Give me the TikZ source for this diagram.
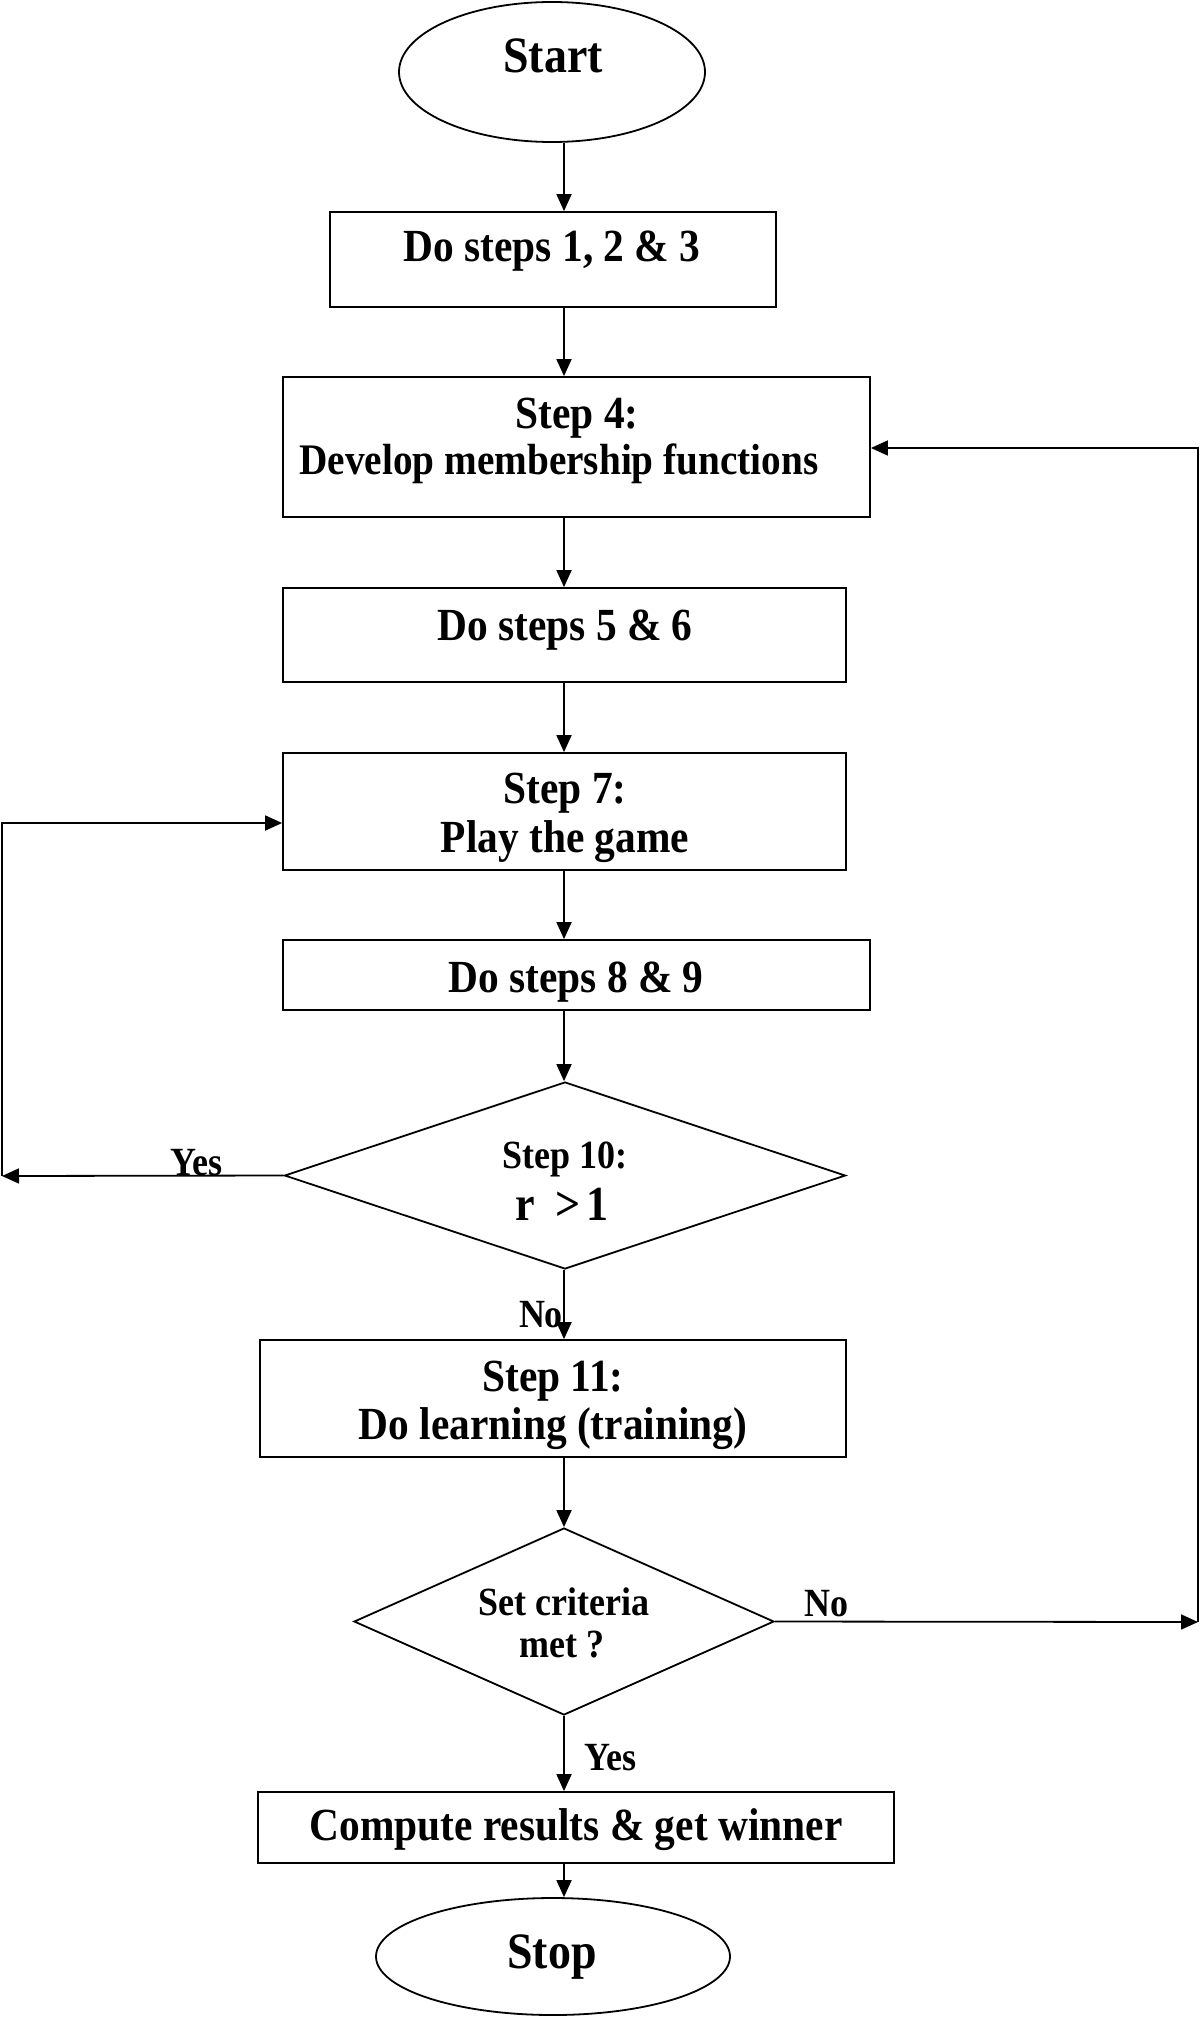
\documentclass[tikz,border=0pt]{standalone}
\usepackage{fontspec}
\setmainfont{Liberation Serif}[FakeStretch=0.9]
\usetikzlibrary{shapes.geometric,arrows.meta}
\begin{document}
\begin{tikzpicture}[x=0.5pt,y=-0.5pt,
  line width=0.9pt,
  boxnode/.style={draw,rectangle,inner sep=0pt},
  ovalnode/.style={draw,ellipse,inner sep=0pt},
  dianode/.style={draw,diamond,inner sep=0pt},
  txt/.style={anchor=base,inner sep=0pt,font=\bfseries\fontsize{23}{27}\selectfont},
  bigtxt/.style={txt,font=\bfseries\fontsize{25.5}{30}\selectfont},
  dtxt/.style={txt,font=\bfseries\fontsize{20}{24}\selectfont},
  lbl/.style={txt,font=\bfseries\fontsize{20}{24}\selectfont},
  arr/.style={-{Triangle[length=8.5pt,width=7.5pt]}}
]
\useasboundingbox (0,0) rectangle (1200,2017);

% shapes
\node[ovalnode,minimum width=153pt,minimum height=70pt] (start) at (552,72) {};
\node[boxnode,minimum width=223pt,minimum height=47.5pt] (b1) at (553,259.5) {};
\node[boxnode,minimum width=293.5pt,minimum height=70pt] (b2) at (576.5,447) {};
\node[boxnode,minimum width=281.5pt,minimum height=47pt] (b3) at (564.5,635) {};
\node[boxnode,minimum width=281.5pt,minimum height=58.5pt] (b4) at (564.5,811.5) {};
\node[boxnode,minimum width=293.5pt,minimum height=35pt] (b5) at (576.5,975) {};
\node[dianode,minimum width=280.5pt,minimum height=93.5pt] (d1) at (565,1175.5) {};
\node[boxnode,minimum width=293pt,minimum height=58.5pt] (b6) at (553,1398.5) {};
\node[dianode,minimum width=210pt,minimum height=93.5pt] (d2) at (564,1621.5) {};
\node[boxnode,minimum width=318pt,minimum height=35.5pt] (b7) at (576,1827.5) {};
\node[ovalnode,minimum width=177pt,minimum height=58.5pt] (stop) at (553,1956.5) {};

% texts
\node[bigtxt] (tstart) at (553,73) {Start};
\node[txt] (tb1) at (552,262) {Do steps 1, 2 \& 3};
\node[txt] (tb2a) at (577,428) {Step 4:};
\node[txt,font=\bfseries\fontsize{21.8}{26}\selectfont] (tb2b) at (559,474) {Develop membership functions};
\node[txt] (tb3) at (565,640) {Do steps 5 \& 6};
\node[txt] (tb4a) at (565,803) {Step 7:};
\node[txt] (tb4b) at (565,852) {Play the game};
\node[txt] (tb5) at (576,992) {Do steps 8 \& 9};
\node[dtxt] (td1a) at (565,1168) {Step 10:};
\node[txt,font=\bfseries\fontsize{24.5}{29}\selectfont] (td1b) at (562,1220) {r\hspace{0.4em}>\hspace{0.12em}1};
\node[txt] (tb6a) at (553,1391) {Step 11:};
\node[txt] (tb6b) at (553,1439) {Do learning (training)};
\node[dtxt] (td2a) at (564,1615) {Set criteria};
\node[dtxt] (td2b) at (562,1657) {met ?};
\node[txt] (tb7) at (576,1840) {Compute results \& get winner};
\node[bigtxt] (tstop) at (552,1968) {Stop};

% labels
\node[lbl] (yes1) at (196,1175) {Yes};
\node[lbl] (no1) at (541,1327) {No};
\node[lbl] (no2) at (826,1616) {No};
\node[lbl] (yes2) at (610,1770) {Yes};

% helper coordinates
\coordinate (spine) at (564,0);
\coordinate (yl) at (2,1176);
\coordinate (lt) at (2,823);
\coordinate (rb) at (1198,1622);
\coordinate (rt) at (1198,448);

% spine connectors
\draw[arr] (start.south -| spine) -- (b1.north -| spine);
\draw[arr] (b1.south -| spine) -- (b2.north -| spine);
\draw[arr] (b2.south -| spine) -- (b3.north -| spine);
\draw[arr] (b3.south -| spine) -- (b4.north -| spine);
\draw[arr] (b4.south -| spine) -- (b5.north -| spine);
\draw[arr] (b5.south -| spine) -- (d1.north -| spine);
\draw[arr] (d1.south -| spine) -- (b6.north -| spine);
\draw[arr] (b6.south -| spine) -- (d2.north -| spine);
\draw[arr] (d2.south -| spine) -- (b7.north -| spine);
\draw[arr] (b7.south -| spine) -- (stop.north -| spine);

% loops
\draw[arr] (d1.west) -- (yl);
\draw[arr] (yl) -- (lt) -- (lt -| b4.west);
\draw[arr] (d2.east) -- (rb);
\draw[arr] (rb) -- (rt) -- (rt -| b2.east);
\end{tikzpicture}
\end{document}
